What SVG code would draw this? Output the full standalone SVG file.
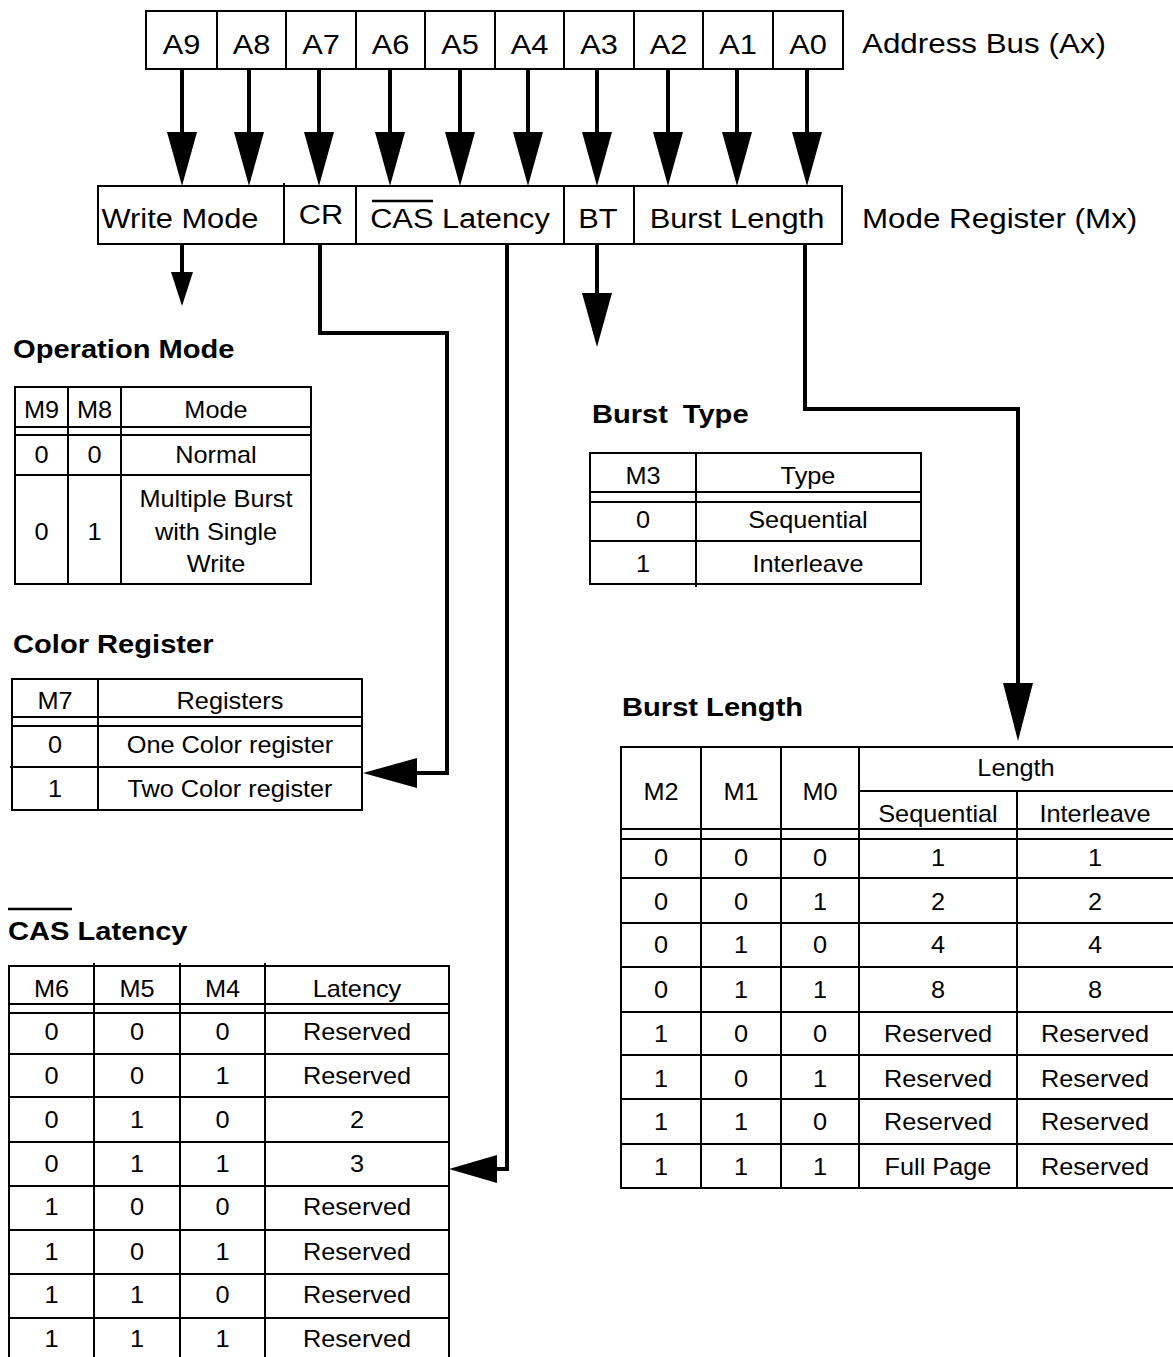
<svg xmlns="http://www.w3.org/2000/svg" width="1173" height="1357" viewBox="0 0 1173 1357">
<style>
.box{fill:none;stroke:#000;stroke-width:2}
.ln{stroke:#000;stroke-width:2;fill:none}
.conn{stroke:#000;stroke-width:4;fill:none;stroke-linejoin:miter}
.head{fill:#000;stroke:none}
text{font-family:"Liberation Sans",Arial,Helvetica,sans-serif;fill:#000}
.big{font-size:28px}
.tbl{font-size:23px}
.ttl{font-size:26px;font-weight:bold}
.c{text-anchor:middle;transform-box:fill-box;transform-origin:center;transform:scaleX(1.1)}
.l{text-anchor:start;transform-box:fill-box;transform-origin:left;transform:scaleX(1.12)}
.bg{fill:#fff}
</style>
<rect class="bg" x="0" y="0" width="1173" height="1357"/>

<g id="address-bus">
<rect class="box" x="146" y="11" width="697" height="58"/>
<path class="ln" d="M217 11V69M286 11V69M356 11V69M425 11V69M495 11V69M564 11V69M634 11V69M703 11V69M773 11V69"/>
<g class="big">
<text class="c" x="181.5" y="54">A9</text>
<text class="c" x="251.5" y="54">A8</text>
<text class="c" x="321" y="54">A7</text>
<text class="c" x="390.5" y="54">A6</text>
<text class="c" x="460" y="54">A5</text>
<text class="c" x="529.5" y="54">A4</text>
<text class="c" x="599" y="54">A3</text>
<text class="c" x="668.5" y="54">A2</text>
<text class="c" x="738" y="54">A1</text>
<text class="c" x="808" y="54">A0</text>
<text class="l" x="862" y="53">Address Bus (Ax)</text>
</g>
</g>

<g id="mode-register">
<rect class="box" x="98" y="186" width="744" height="58"/>
<path class="ln" d="M284 183V244M356 186V244M564 186V244M634 186V244"/>
<g class="big">
<text class="c" x="180" y="228">Write Mode</text>
<text class="c" x="321" y="224">CR</text>
<text class="c" x="460" y="228">CAS Latency</text>
<text class="c" x="598" y="228">BT</text>
<text class="c" x="737" y="228">Burst Length</text>
<text class="l" x="862" y="228">Mode Register (Mx)</text>
</g>
<line x1="372" y1="201" x2="433" y2="201" stroke="#000" stroke-width="2.5"/>
</g>

<g id="connectors">
<path class="conn" d="M182 69V134M249 69V134M319 69V134M390 69V134M460 69V134M528 69V134M597 69V134M668 69V134M737 69V134M807 69V134"/>
<polygon class="head" points="167,132 197,132 182,186"/>
<polygon class="head" points="234,132 264,132 249,186"/>
<polygon class="head" points="304,132 334,132 319,186"/>
<polygon class="head" points="375,132 405,132 390,186"/>
<polygon class="head" points="445,132 475,132 460,186"/>
<polygon class="head" points="513,132 543,132 528,186"/>
<polygon class="head" points="582,132 612,132 597,186"/>
<polygon class="head" points="653,132 683,132 668,186"/>
<polygon class="head" points="722,132 752,132 737,186"/>
<polygon class="head" points="792,132 822,132 807,186"/>

<path class="conn" d="M182 244V274"/>
<polygon class="head" points="171,272 193,272 182,306"/>

<path class="conn" d="M320 244V333H447V773H415"/>
<polygon class="head" points="363,773 417,758 417,788"/>

<path class="conn" d="M507 244V1169H495"/>
<polygon class="head" points="449,1169 497,1155 497,1183"/>

<path class="conn" d="M597 244V295"/>
<polygon class="head" points="582,293 612,293 597,347"/>

<path class="conn" d="M805 244V409H1018V685"/>
<polygon class="head" points="1003,683 1033,683 1018,741"/>
</g>

<g id="operation-mode">
<text class="ttl l" x="13" y="358">Operation Mode</text>
<rect class="box" x="15" y="387" width="296" height="197"/>
<path class="ln" d="M68 387V584M121 387V584M15 427H311M15 435H311M15 475H311"/>
<g class="tbl">
<text class="c" x="41.5" y="418">M9</text>
<text class="c" x="94.5" y="418">M8</text>
<text class="c" x="216" y="418">Mode</text>
<text class="c" x="41.5" y="463">0</text>
<text class="c" x="94.5" y="463">0</text>
<text class="c" x="216" y="463">Normal</text>
<text class="c" x="41.5" y="540">0</text>
<text class="c" x="94.5" y="540">1</text>
<text class="c" x="216" y="507">Multiple Burst</text>
<text class="c" x="216" y="540">with Single</text>
<text class="c" x="216" y="572">Write</text>
</g>
</g>

<g id="color-register">
<text class="ttl l" x="13" y="653">Color Register</text>
<rect class="box" x="12" y="679" width="350" height="131"/>
<path class="ln" d="M98 679V810M12 717H362M12 726H362M10 767H362"/>
<g class="tbl">
<text class="c" x="55" y="709">M7</text>
<text class="c" x="230" y="709">Registers</text>
<text class="c" x="55" y="753">0</text>
<text class="c" x="230" y="753">One Color register</text>
<text class="c" x="55" y="797">1</text>
<text class="c" x="230" y="797">Two Color register</text>
</g>
</g>

<g id="cas-latency">
<line x1="8" y1="909" x2="72" y2="909" stroke="#000" stroke-width="2.5"/>
<text class="ttl l" x="8" y="940">CAS Latency</text>
<path class="ln" d="M9 1362V966H449V1362M94 963V1362M180 963V1362M265 963V1362M9 1004H449M9 1013H449M9 1054H449M9 1097H449M9 1142H449M9 1186H449M9 1230H449M9 1274H449M9 1318H449"/>
<g class="tbl">
<text class="c" x="51.5" y="997">M6</text>
<text class="c" x="137" y="997">M5</text>
<text class="c" x="222.5" y="997">M4</text>
<text class="c" x="357" y="997">Latency</text>
<text class="c" x="51.5" y="1040">0</text><text class="c" x="137" y="1040">0</text><text class="c" x="222.5" y="1040">0</text><text class="c" x="357" y="1040">Reserved</text>
<text class="c" x="51.5" y="1084">0</text><text class="c" x="137" y="1084">0</text><text class="c" x="222.5" y="1084">1</text><text class="c" x="357" y="1084">Reserved</text>
<text class="c" x="51.5" y="1128">0</text><text class="c" x="137" y="1128">1</text><text class="c" x="222.5" y="1128">0</text><text class="c" x="357" y="1128">2</text>
<text class="c" x="51.5" y="1172">0</text><text class="c" x="137" y="1172">1</text><text class="c" x="222.5" y="1172">1</text><text class="c" x="357" y="1172">3</text>
<text class="c" x="51.5" y="1215">1</text><text class="c" x="137" y="1215">0</text><text class="c" x="222.5" y="1215">0</text><text class="c" x="357" y="1215">Reserved</text>
<text class="c" x="51.5" y="1260">1</text><text class="c" x="137" y="1260">0</text><text class="c" x="222.5" y="1260">1</text><text class="c" x="357" y="1260">Reserved</text>
<text class="c" x="51.5" y="1303">1</text><text class="c" x="137" y="1303">1</text><text class="c" x="222.5" y="1303">0</text><text class="c" x="357" y="1303">Reserved</text>
<text class="c" x="51.5" y="1347">1</text><text class="c" x="137" y="1347">1</text><text class="c" x="222.5" y="1347">1</text><text class="c" x="357" y="1347">Reserved</text>
</g>
</g>

<g id="burst-type">
<text class="ttl l" x="592" y="423" style="word-spacing:6px">Burst Type</text>
<rect class="box" x="590" y="453" width="331" height="131"/>
<path class="ln" d="M696 453V587M590 492H921M590 502H921M590 541H921"/>
<g class="tbl">
<text class="c" x="643" y="484">M3</text>
<text class="c" x="808" y="484">Type</text>
<text class="c" x="643" y="528">0</text>
<text class="c" x="808" y="528">Sequential</text>
<text class="c" x="643" y="572">1</text>
<text class="c" x="808" y="572">Interleave</text>
</g>
</g>

<g id="burst-length">
<text class="ttl l" x="622" y="716">Burst Length</text>
<path class="ln" d="M1180 747H621V1188H1180M701 747V1188M781 747V1188M859 747V1188M1017 791V1188M859 791H1180M621 829H1180M621 839H1180M621 878H1180M621 923H1180M621 967H1180M621 1012H1180M621 1055H1180M621 1099H1180M621 1144H1180"/>
<g class="tbl">
<text class="c" x="661" y="800">M2</text>
<text class="c" x="741" y="800">M1</text>
<text class="c" x="820" y="800">M0</text>
<text class="c" x="1016" y="776">Length</text>
<text class="c" x="938" y="822">Sequential</text>
<text class="c" x="1095" y="822">Interleave</text>
<text class="c" x="661" y="866">0</text><text class="c" x="741" y="866">0</text><text class="c" x="820" y="866">0</text><text class="c" x="938" y="866">1</text><text class="c" x="1095" y="866">1</text>
<text class="c" x="661" y="910">0</text><text class="c" x="741" y="910">0</text><text class="c" x="820" y="910">1</text><text class="c" x="938" y="910">2</text><text class="c" x="1095" y="910">2</text>
<text class="c" x="661" y="953">0</text><text class="c" x="741" y="953">1</text><text class="c" x="820" y="953">0</text><text class="c" x="938" y="953">4</text><text class="c" x="1095" y="953">4</text>
<text class="c" x="661" y="998">0</text><text class="c" x="741" y="998">1</text><text class="c" x="820" y="998">1</text><text class="c" x="938" y="998">8</text><text class="c" x="1095" y="998">8</text>
<text class="c" x="661" y="1042">1</text><text class="c" x="741" y="1042">0</text><text class="c" x="820" y="1042">0</text><text class="c" x="938" y="1042">Reserved</text><text class="c" x="1095" y="1042">Reserved</text>
<text class="c" x="661" y="1087">1</text><text class="c" x="741" y="1087">0</text><text class="c" x="820" y="1087">1</text><text class="c" x="938" y="1087">Reserved</text><text class="c" x="1095" y="1087">Reserved</text>
<text class="c" x="661" y="1130">1</text><text class="c" x="741" y="1130">1</text><text class="c" x="820" y="1130">0</text><text class="c" x="938" y="1130">Reserved</text><text class="c" x="1095" y="1130">Reserved</text>
<text class="c" x="661" y="1175">1</text><text class="c" x="741" y="1175">1</text><text class="c" x="820" y="1175">1</text><text class="c" x="938" y="1175">Full Page</text><text class="c" x="1095" y="1175">Reserved</text>
</g>
</g>
</svg>
